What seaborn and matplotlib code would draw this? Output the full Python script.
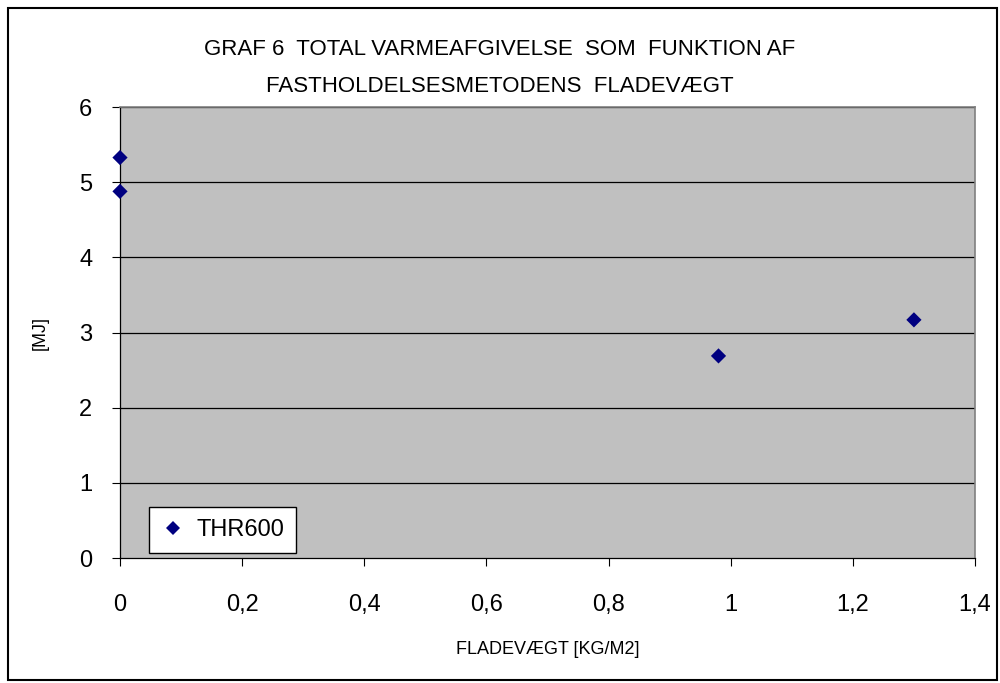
import matplotlib
matplotlib.use("Agg")
import matplotlib.pyplot as plt
import seaborn as sns
import pandas as pd
from matplotlib.patches import Rectangle

# Data
fladevaegt = [0.0, 0.0, 0.98, 1.30]
varme_mj = [5.33, 4.88, 2.69, 3.17]
serie = ["THR600"] * 4
yticks = [0, 1, 2, 3, 4, 5, 6]
xticks = [0, 0.2, 0.4, 0.6, 0.8, 1.0, 1.2, 1.4]
xticklabels = ["0", "0,2", "0,4", "0,6", "0,8", "1", "1,2", "1,4"]

df = pd.DataFrame({"x": fladevaegt, "y": varme_mj, "serie": serie})

sns.set_style("white")
plt.rcParams["font.family"] = ["Liberation Sans", "DejaVu Sans"]
plt.rcParams["text.color"] = "black"
plt.rcParams["xtick.color"] = "black"
plt.rcParams["ytick.color"] = "black"
plt.rcParams["axes.labelcolor"] = "black"
narrow = ["Liberation Sans Narrow", "Liberation Sans", "DejaVu Sans"]

fig = plt.figure(figsize=(10, 6.83), dpi=100)
ax = fig.add_axes([0.12, 0.183, 0.855, 0.66])
ax.set_facecolor("#C0C0C0")

sns.scatterplot(data=df, x="x", y="y", hue="serie", palette=["#000080"],
                marker="D", s=60, edgecolor="#000080", linewidth=0,
                ax=ax, zorder=3, clip_on=False)

ax.set_xlim(0, 1.4)
ax.set_ylim(0, 6)
ax.set_yticks(yticks)
ax.set_yticklabels([str(t) for t in yticks])
ax.set_xticks(xticks)
ax.set_xticklabels(xticklabels)
ax.tick_params(axis="both", labelsize=17, length=6, width=0.8, color="black",
               direction="out", bottom=True, left=True)
ax.tick_params(axis="x", pad=20)
ax.tick_params(axis="y", pad=14)

for t in yticks[1:]:
    ax.axhline(t, color="black", linewidth=0.9, zorder=1)

for side in ["top", "right"]:
    ax.spines[side].set_color("#808080")
    ax.spines[side].set_linewidth(1.2)
for side in ["left", "bottom"]:
    ax.spines[side].set_color("black")
    ax.spines[side].set_linewidth(0.9)

ax.set_xlabel("FLADEVÆGT [KG/M2]", fontsize=13, family=narrow, labelpad=18)
ax.set_ylabel("[MJ]", fontsize=13, family=narrow, labelpad=22)

fig.text(0.5, 0.928, "GRAF 6  TOTAL VARMEAFGIVELSE  SOM  FUNKTION AF",
         ha="center", va="center", fontsize=16, family=narrow)
fig.text(0.5, 0.873, "FASTHOLDELSESMETODENS  FLADEVÆGT",
         ha="center", va="center", fontsize=16, family=narrow)

leg = ax.legend(loc="lower left", bbox_to_anchor=(0.034, 0.011), fontsize=17,
                frameon=True, fancybox=False, handletextpad=0.5,
                borderpad=0.5, borderaxespad=0, handlelength=1.0,
                markerscale=0.9)
leg.get_frame().set_edgecolor("black")
leg.get_frame().set_facecolor("white")
leg.get_frame().set_linewidth(1.0)
leg.get_frame().set_alpha(1)

# outer chart border
fig.patches.append(Rectangle((0.008, 0.004), 0.989, 0.985, transform=fig.transFigure,
                             fill=False, edgecolor="black", linewidth=1.5))

fig.savefig("out.png", dpi=100)
